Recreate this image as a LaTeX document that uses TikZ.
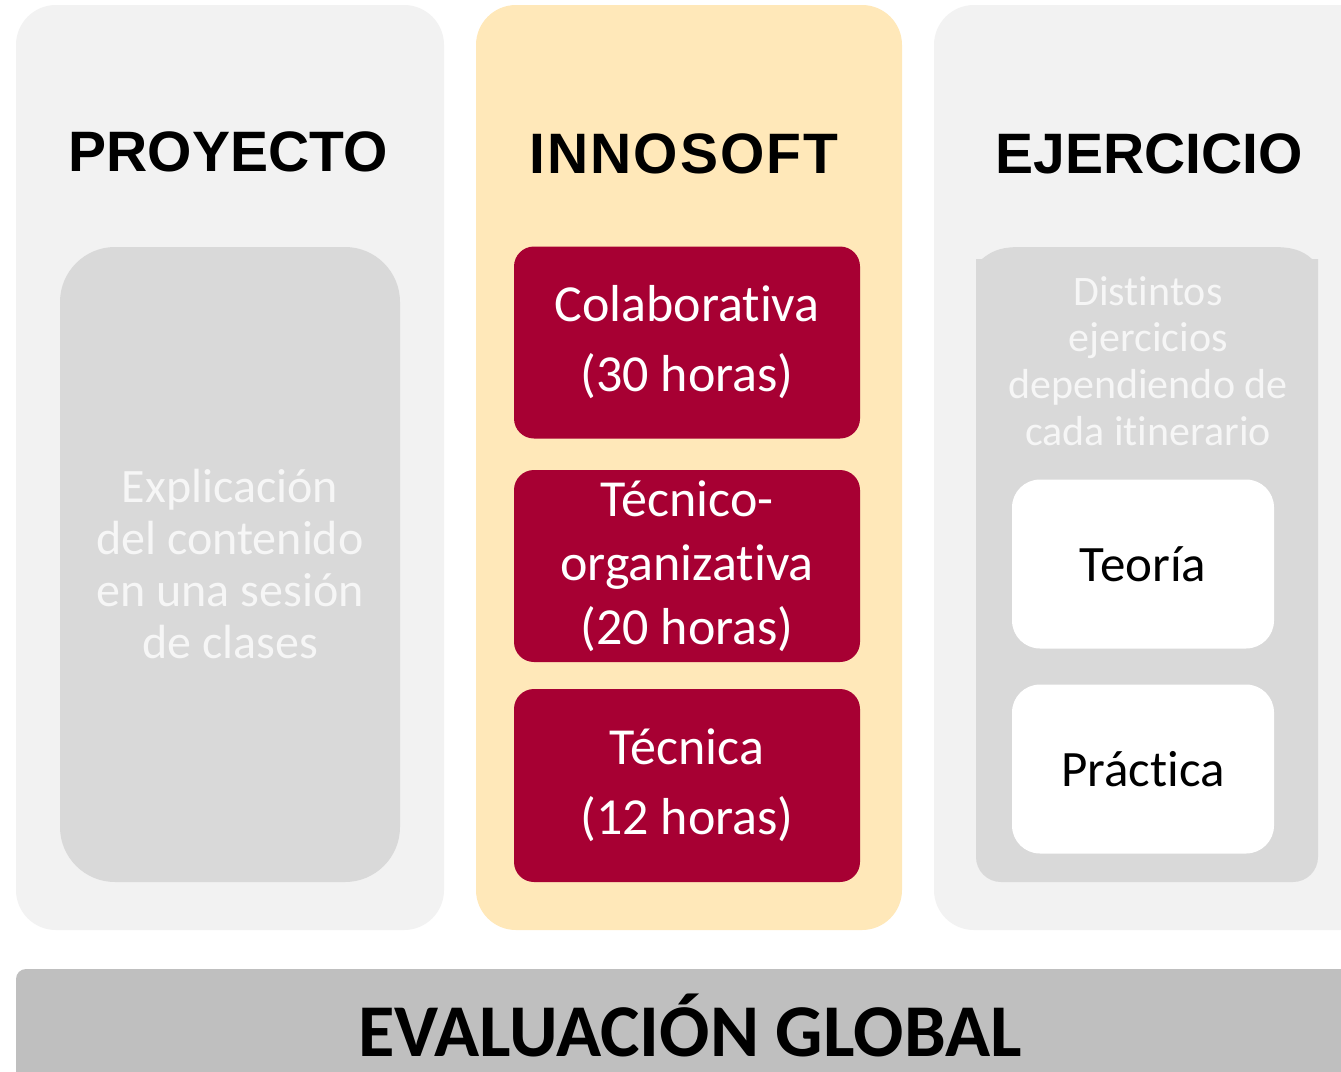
\documentclass[tikz,border=0pt]{standalone}
\usepackage{fontspec}
\setmainfont{Carlito}[Ligatures=NoCommon]
\newfontfamily\headfont{Liberation Sans}
\definecolor{panelgray}{HTML}{F2F2F2}
\definecolor{panelgold}{HTML}{FFE8B9}
\definecolor{innergray}{HTML}{D9D9D9}
\definecolor{crimson}{HTML}{A70033}
\definecolor{bargray}{HTML}{BFBFBF}
\definecolor{softwhite}{HTML}{F6F6F6}
\begin{document}
\begin{tikzpicture}[x=1pt,y=-1pt,
  panelbox/.style={fill=#1, rounded corners=40pt, inner sep=0pt, draw=none},
  crimbox/.style={fill=crimson, rounded corners=20pt, inner sep=0pt,
    minimum width=346pt, minimum height=192pt, text=white, align=center,
    font=\fontsize{52}{70}\selectfont},
  whitebox/.style={fill=white, rounded corners=28pt, inner sep=0pt,
    minimum width=262pt, minimum height=169pt, text=black,
    font=\fontsize{51}{60}\selectfont},
  heading/.style={font=\headfont\bfseries\fontsize{57}{60}\selectfont, anchor=base, inner sep=0pt}]
\useasboundingbox (0,0) rectangle (1341,1071);
\clip (0,0) rectangle (1341,1071);
\fill[white] (0,0) rectangle (1341,1071);
% outer panels
\node[panelbox=panelgray, minimum width=428pt, minimum height=925pt] (proy) at (230,467.5) {};
\node[panelbox=panelgold, minimum width=426pt, minimum height=925pt] (inno) at (689,467.5) {};
\node[panelbox=panelgray, minimum width=446pt, minimum height=925pt] (ejer) at (1157,467.5) {};
% bottom bar
\node[fill=bargray, rounded corners=10pt, inner sep=0pt, minimum width=1360pt, minimum height=140pt] (bar) at (696,1039) {};
% headings
\node[heading] (hproy) at (228,171) {PROYECTO};
\node[heading] (hinno) at (684,173) {I\kern2pt N\kern2pt N\kern2pt O\kern2pt S\kern2pt O\kern2pt F\kern2pt T};
\node[heading] (hejer) at (1149,173) {EJERCICIO};
% left inner
\node[fill=innergray, rounded corners=55pt, inner sep=0pt, minimum width=340pt, minimum height=635pt,
  text=softwhite, align=center, font=\fontsize{48}{52}\selectfont] (expl) at (230,564.5)
  {Explicación\\del contenido\\en una sesión\\de clases};
% middle boxes
\node[crimbox] (colab) at (687,342.5) {Colaborativa\\(30 horas)};
\node[crimbox, font=\fontsize{52}{64}\selectfont] (tecorg) at (687,566) {Técnico-\\organizativa\\(20 horas)};
\node[crimbox, minimum height=193pt] (tec) at (687,785.5) {Técnica\\(12 horas)};
% right inner shape
\fill[innergray] (976,259) -- (982,259) .. controls (994,249) and (1004,247) .. (1022,247)
  -- (1272,247) .. controls (1292,247) and (1302,250) .. (1312,259) -- (1318,259)
  -- (1318,857) arc[start angle=0, end angle=90, radius=25] -- (1001,882)
  arc[start angle=90, end angle=180, radius=25] -- cycle;
\node[text=softwhite, align=center, inner sep=0pt, font=\fontsize{42}{46.7}\selectfont] (dist) at (1148,361)
  {Distintos\\ejercicios\\dependiendo de\\cada itinerario};
\node[whitebox] (teo) at (1143,564) {Teoría};
\node[whitebox] (prac) at (1143,769) {Práctica};
% bottom text
\node[font=\bfseries\fontsize{74.5}{76}\selectfont, anchor=base, inner sep=0pt] (eval) at (690,1056) {EVALUACIÓN GLOBAL};
\end{tikzpicture}
\end{document}
